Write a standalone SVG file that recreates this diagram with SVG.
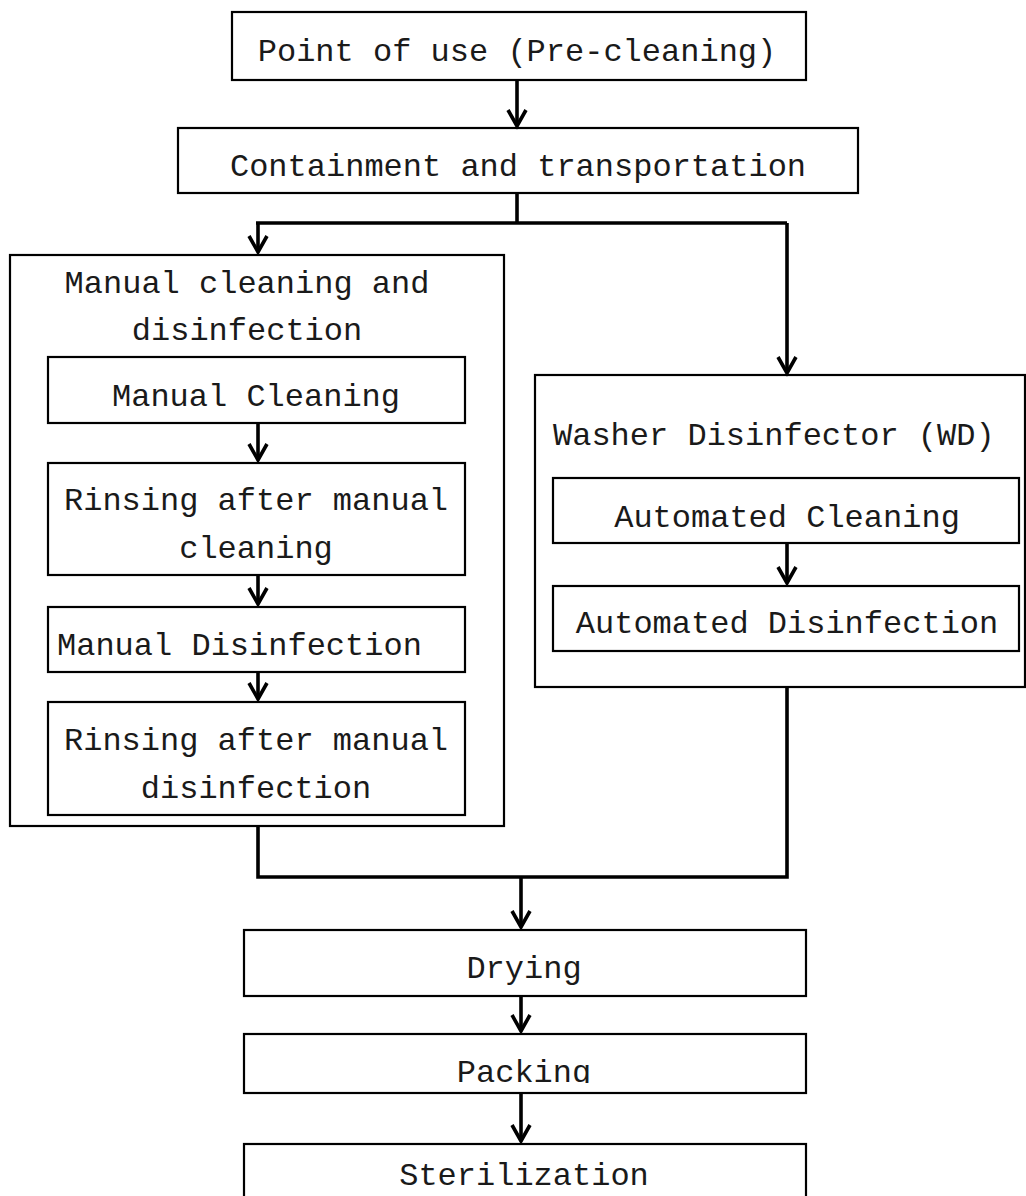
<svg xmlns="http://www.w3.org/2000/svg" width="1026" height="1196" viewBox="0 0 1026 1196">
<style>
.box{fill:#fff;stroke:#000;stroke-width:2.2}
.t{font-family:"Liberation Mono","Courier New",monospace;font-size:32px;fill:#1a1a1a}
.m{text-anchor:middle}
.c{fill:none;stroke:#000;stroke-width:3.6}
</style>
<defs>
<marker id="ah" markerUnits="userSpaceOnUse" markerWidth="40" markerHeight="40" refX="0" refY="0" orient="auto" overflow="visible">
<path d="M-16,-9 L0,0 L-16,9" fill="none" stroke="#000" stroke-width="3.6" stroke-linejoin="miter"/>
</marker>
<clipPath id="packclip"><rect x="244" y="1030" width="562" height="53"/></clipPath>
</defs>
<rect width="1026" height="1196" fill="#fff"/>
<g id="n-point">
<rect class="box" x="232" y="12" width="574" height="68"/>
<text class="t m" x="517" y="61">Point of use (Pre-cleaning)</text>
</g>
<g id="n-contain">
<rect class="box" x="178" y="128" width="680" height="65"/>
<text class="t m" x="518" y="176">Containment and transportation</text>
</g>
<g id="n-manual">
<rect class="box" x="10" y="255" width="494" height="571"/>
<text class="t m" x="247" y="293">Manual cleaning and</text>
<text class="t m" x="247" y="340">disinfection</text>
</g>
<g id="n-mclean">
<rect class="box" x="48" y="357" width="417" height="66"/>
<text class="t m" x="256" y="406">Manual Cleaning</text>
</g>
<g id="n-rinse1">
<rect class="box" x="48" y="463" width="417" height="112"/>
<text class="t m" x="256" y="510">Rinsing after manual</text>
<text class="t m" x="256" y="558">cleaning</text>
</g>
<g id="n-mdis">
<rect class="box" x="48" y="607" width="417" height="65"/>
<text class="t" x="57" y="655">Manual Disinfection</text>
</g>
<g id="n-rinse2">
<rect class="box" x="48" y="702" width="417" height="113"/>
<text class="t m" x="256" y="750">Rinsing after manual</text>
<text class="t m" x="256" y="798">disinfection</text>
</g>
<g id="n-wd">
<rect class="box" x="535" y="375" width="490" height="312"/>
<text class="t" x="553" y="445">Washer Disinfector (WD)</text>
</g>
<g id="n-aclean">
<rect class="box" x="553" y="478" width="466" height="65"/>
<text class="t m" x="787" y="527">Automated Cleaning</text>
</g>
<g id="n-adis">
<rect class="box" x="553" y="586" width="466" height="65"/>
<text class="t m" x="787" y="633">Automated Disinfection</text>
</g>
<g id="n-dry">
<rect class="box" x="244" y="930" width="562" height="66"/>
<text class="t m" x="524" y="978">Drying</text>
</g>
<g id="n-pack">
<rect class="box" x="244" y="1034" width="562" height="59"/>
<text class="t m" x="524" y="1082" clip-path="url(#packclip)">Packing</text>
</g>
<g id="n-steril">
<rect class="box" x="244" y="1144" width="562" height="60"/>
<text class="t m" x="524" y="1185">Sterilization</text>
</g>
<g id="connectors">
<path class="c" d="M517,80 V126" marker-end="url(#ah)"/>
<path class="c" d="M517,193 V223"/>
<path class="c" d="M256,223 H787"/>
<path class="c" d="M258,223 V252" marker-end="url(#ah)"/>
<path class="c" d="M787,223 V373" marker-end="url(#ah)"/>
<path class="c" d="M258,423 V460" marker-end="url(#ah)"/>
<path class="c" d="M258,575 V604" marker-end="url(#ah)"/>
<path class="c" d="M258,672 V699" marker-end="url(#ah)"/>
<path class="c" d="M787,543 V583" marker-end="url(#ah)"/>
<path class="c" d="M258,826 V877 H787 V688"/>
<path class="c" d="M521,877 V927" marker-end="url(#ah)"/>
<path class="c" d="M521,996 V1031" marker-end="url(#ah)"/>
<path class="c" d="M521,1093 V1141" marker-end="url(#ah)"/>
</g>
</svg>
